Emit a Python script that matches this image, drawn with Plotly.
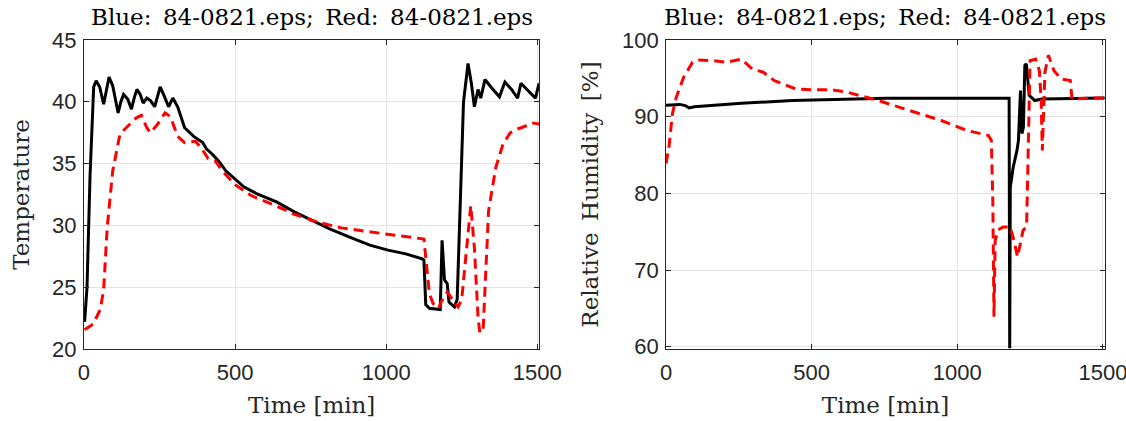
import plotly.graph_objects as go

# Temperature panel
temp_black_t = [2, 10, 20, 32, 40, 52, 65, 75, 83, 95, 113, 122, 131, 145, 157, 166, 175, 186, 196, 208, 220, 234, 243, 252,
                265, 280, 294, 310, 333, 363, 393, 405, 423, 446, 470, 500, 530, 577, 637, 696, 756, 815, 875, 946,
                1006, 1065, 1119, 1125, 1131, 1143, 1179, 1185, 1193, 1202, 1208, 1226, 1235, 1256, 1271, 1282, 1292,
                1304, 1313, 1327, 1350, 1375, 1393, 1415, 1435, 1446, 1470, 1494, 1506]
temp_black_v = [22.2, 25.0, 34.0, 41.2, 41.7, 41.2, 39.8, 41.0, 42.0, 41.3, 39.1, 40.0, 40.6, 40.2, 39.4, 40.3, 41.0, 40.6, 39.9,
                40.3, 40.1, 39.6, 40.4, 41.2, 40.5, 39.6, 40.3, 39.6, 37.9, 37.2, 36.7, 36.2, 35.8, 35.2, 34.4, 33.75,
                33.1, 32.5, 31.9, 31.1, 30.4, 29.7, 29.1, 28.4, 28.0, 27.7, 27.3, 27.2, 23.6, 23.3, 23.2, 28.8, 25.6,
                25.3, 23.8, 23.4, 24.0, 40.0, 43.1, 41.5, 39.6, 41.0, 40.3, 41.8, 41.1, 40.4, 41.6, 41.0, 40.3, 41.5,
                40.9, 40.3, 41.5]

temp_red_t = [2, 30, 54, 65, 77, 95, 119, 149, 173, 190, 208, 220, 244, 268, 286, 310, 333, 369, 387, 411, 435, 458, 500,
              554, 625, 696, 768, 851, 935, 1030, 1125, 1131, 1143, 1155, 1173, 1190, 1202, 1220, 1238, 1250, 1268,
              1280, 1292, 1304, 1310, 1321, 1339, 1363, 1387, 1411, 1435, 1458, 1482, 1506]
temp_red_v = [21.55, 22.0, 23.2, 24.8, 29.9, 34.4, 37.4, 38.1, 38.7, 38.9, 37.9, 37.5, 38.2, 39.1, 38.8, 37.2, 36.7, 36.8,
              36.3, 35.4, 35.2, 34.4, 33.3, 32.4, 31.7, 30.9, 30.3, 29.8, 29.5, 29.2, 28.9, 27.4, 24.5, 23.7, 23.3,
              24.2, 24.6, 24.0, 23.4, 24.0, 28.8, 31.6, 28.2, 22.6, 21.3, 21.6, 31.2, 34.7, 36.6, 37.5, 37.8, 38.0,
              38.3, 38.2]

# Relative humidity panel
rh_black_t = [0, 47, 66, 79, 97, 259, 434, 633, 758, 1007, 1178, 1180, 1182, 1192, 1205, 1210, 1217, 1222, 1227, 1232,
              1237, 1247, 1266, 1291, 1506]
rh_black_v = [91.5, 91.6, 91.45, 91.15, 91.3, 91.75, 92.1, 92.3, 92.4, 92.4, 92.4, 59.8, 80.8, 83.4, 85.6, 86.9, 93.4,
              87.8, 88.6, 96.7, 96.9, 92.8, 92.1, 92.3, 92.45]

rh_red_t = [0, 10, 22, 35, 60, 91, 110, 160, 209, 259, 297, 334, 372, 409, 446, 509, 571, 621, 721, 820, 945, 1033,
            1107, 1117, 1122, 1126, 1130, 1139, 1157, 1182, 1195, 1207, 1217, 1226, 1238, 1244, 1250, 1269, 1282,
            1288, 1292, 1301, 1313, 1332, 1357, 1388, 1394, 1444, 1506]
rh_red_v = [83.9, 86.0, 90.4, 92.5, 95.1, 97.1, 97.4, 97.3, 97.1, 97.5, 96.2, 95.8, 94.7, 94.1, 93.6, 93.5, 93.5, 93.2,
            92.2, 91.0, 89.5, 88.2, 87.55, 86.9, 79.1, 63.9, 73.8, 75.2, 75.6, 75.6, 73.8, 71.7, 73.8, 75.2, 75.6,
            87.8, 97.3, 97.5, 96.0, 92.1, 85.6, 95.8, 98.0, 96.0, 94.9, 94.7, 92.3, 92.4, 92.45]

x_ticks = [0, 500, 1000, 1500]
temp_ticks = [20, 25, 30, 35, 40, 45]
rh_ticks = [60, 70, 80, 90, 100]

EN = "\u2002"  # wide word gap, as in the typeset labels
title_text = EN.join(["Blue:", "84-0821.eps;", "Red:", "84-0821.eps"])
rh_label = EN.join(["Relative", "Humidity", "[%]"])

SERIF = "DejaVu Serif"
SANS = "Liberation Sans"
AXIS_COLOR = "#262626"
GRID_COLOR = "#e3e3e3"

black_line = dict(color="black", width=3)
red_line = dict(color="#ff0000", width=3, dash="10px,6px")

fig = go.Figure()
fig.add_trace(go.Scatter(x=temp_black_t, y=temp_black_v, mode="lines", line=black_line, xaxis="x", yaxis="y"))
fig.add_trace(go.Scatter(x=temp_red_t, y=temp_red_v, mode="lines", line=red_line, xaxis="x", yaxis="y"))
fig.add_trace(go.Scatter(x=rh_black_t, y=rh_black_v, mode="lines", line=black_line, xaxis="x2", yaxis="y2"))
fig.add_trace(go.Scatter(x=rh_red_t, y=rh_red_v, mode="lines", line=red_line, xaxis="x2", yaxis="y2"))


def axis_style(**kw):
    base = dict(
        showline=True, linecolor=AXIS_COLOR, linewidth=1, mirror="allticks",
        ticks="inside", ticklen=5, tickcolor=AXIS_COLOR, tickwidth=1,
        showgrid=True, gridcolor=GRID_COLOR, gridwidth=1, zeroline=False,
        automargin=False, ticklabeloverflow="allow",
        tickfont=dict(family=SANS, size=22, color=AXIS_COLOR),
        title_font=dict(family=SERIF, size=23, color=AXIS_COLOR),
    )
    base.update(kw)
    return base


left_dom = [0.0746, 0.479]
right_dom = [0.5915, 0.9813]
y_dom = [0.171, 0.905]
fig.update_layout(
    width=1126, height=421,
    margin=dict(l=0, r=0, t=0, b=0),
    paper_bgcolor="white", plot_bgcolor="white",
    showlegend=False,
    xaxis=axis_style(domain=left_dom, range=[0, 1507], tickvals=x_ticks, ticklabelstandoff=4,
                     title=dict(text="Time [min]", standoff=12), anchor="y"),
    yaxis=axis_style(domain=y_dom, range=[20, 45], tickvals=temp_ticks, ticklabelstandoff=2,
                     title=dict(text="Temperature", standoff=16), anchor="x"),
    xaxis2=axis_style(domain=right_dom, range=[0, 1507], tickvals=x_ticks, ticklabelstandoff=4,
                      title=dict(text="Time [min]", standoff=12), anchor="y2"),
    yaxis2=axis_style(domain=y_dom, range=[59.7, 100], tickvals=rh_ticks, ticklabelstandoff=2,
                      title=dict(text=rh_label, standoff=16), anchor="x2"),
    annotations=[
        dict(text=title_text, x=sum(left_dom) / 2, y=1 - 17 / 421, xref="paper", yref="paper",
             xanchor="center", yanchor="middle", showarrow=False,
             font=dict(family=SERIF, size=23, color="black")),
        dict(text=title_text, x=sum(right_dom) / 2, y=1 - 17 / 421, xref="paper", yref="paper",
             xanchor="center", yanchor="middle", showarrow=False,
             font=dict(family=SERIF, size=23, color="black")),
    ],
)

fig.write_html("out.html")
